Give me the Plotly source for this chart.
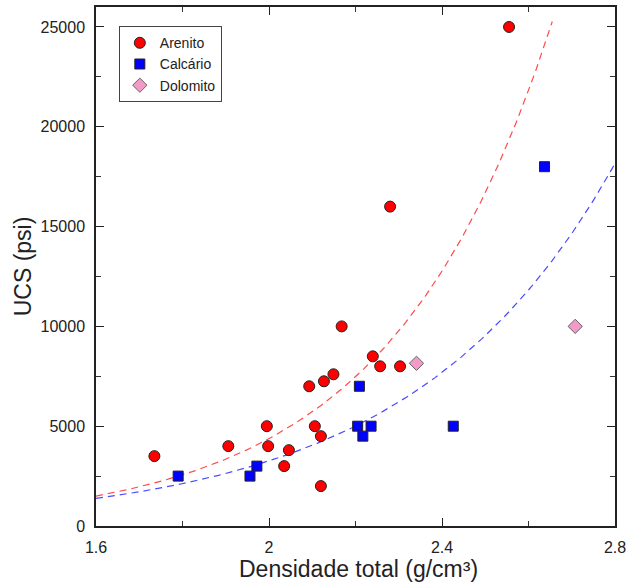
import numpy as np
import plotly.graph_objects as go

# --- data ---
arenito_x = [1.735, 1.906, 1.995, 1.998, 2.046, 2.035, 2.093, 2.106, 2.120, 2.120,
             2.127, 2.149, 2.168, 2.240, 2.257, 2.303, 2.280, 2.555]
arenito_y = [3500, 4000, 5000, 4000, 3800, 3000, 7000, 5000, 4500, 2000,
             7250, 7600, 10000, 8500, 8000, 8000, 16000, 25000]

calcario_x = [1.790, 1.956, 1.972, 2.209, 2.205, 2.217, 2.236, 2.426, 2.637]
calcario_y = [2500, 2500, 3000, 7000, 5000, 4500, 5000, 5000, 18000]

dolomito_x = [2.341, 2.708]
dolomito_y = [8150, 10000]

# exponential trend parameters (y = a * exp(b * x))
arenito_fit = {"a": 20.7, "b": 2.677, "x0": 1.6, "x1": 2.655}
calcario_fit = {"a": 44.5, "b": 2.147, "x0": 1.6, "x1": 2.8}

x_ticks = [1.6, 2.0, 2.4, 2.8]
x_tick_text = ["1.6", "2", "2.4", "2.8"]
y_ticks = [0, 5000, 10000, 15000, 20000, 25000]
y_tick_text = ["0", "5000", "10000", "15000", "20000", "25000"]

x_title = "Densidade total (g/cm³)"
y_title = "UCS (psi)"


def fit_curve(p):
    xs = np.linspace(p["x0"], p["x1"], 200)
    return xs, p["a"] * np.exp(p["b"] * xs)


FONT = "Liberation Sans, Arial, sans-serif"

fig = go.Figure()

xs, ys = fit_curve(arenito_fit)
fig.add_trace(go.Scatter(x=xs, y=ys, mode="lines", showlegend=False, hoverinfo="skip",
                         line=dict(color="#ff4a4a", width=1.2, dash="7px,5px")))
xs, ys = fit_curve(calcario_fit)
fig.add_trace(go.Scatter(x=xs, y=ys, mode="lines", showlegend=False, hoverinfo="skip",
                         line=dict(color="#4a4aff", width=1.2, dash="7px,5px")))

fig.add_trace(go.Scatter(x=arenito_x, y=arenito_y, mode="markers", name="Arenito",
                         marker=dict(symbol="circle", size=11, color="#ff0000",
                                     line=dict(color="#222222", width=1))))
fig.add_trace(go.Scatter(x=calcario_x, y=calcario_y, mode="markers", name="Calcário",
                         marker=dict(symbol="square", size=10, color="#0000ff",
                                     line=dict(color="#222222", width=1))))
fig.add_trace(go.Scatter(x=dolomito_x, y=dolomito_y, mode="markers", name="Dolomito",
                         marker=dict(symbol="diamond", size=11, color="#f49ac8",
                                     line=dict(color="#666666", width=1))))

axis_common = dict(
    showline=True, linecolor="#222222", linewidth=1.5, mirror="allticks",
    ticks="inside", ticklen=8, tickcolor="#222222", tickwidth=1.3,
    showgrid=False, zeroline=False, automargin=False,
    tickfont=dict(family=FONT, size=16, color="#222222"),
)

fig.update_xaxes(
    range=[1.6, 2.8], tickvals=x_ticks, ticktext=x_tick_text,
    ticklabelstandoff=6,
    minor=dict(ticks="inside", ticklen=5, tickcolor="#333333", tickwidth=1, dtick=0.2),
    **axis_common,
)
fig.update_yaxes(
    range=[0, 26000], tickvals=y_ticks, ticktext=y_tick_text,
    ticklabelstandoff=6,
    minor=dict(ticks="inside", ticklen=5, tickcolor="#333333", tickwidth=1, dtick=2500),
    **axis_common,
)

fig.add_annotation(text=x_title, xref="paper", yref="paper", x=0.505, y=-0.083,
                   xanchor="center", yanchor="middle", showarrow=False,
                   font=dict(family=FONT, size=23, color="#222222"))
fig.add_annotation(text=y_title, xref="paper", yref="paper", x=-0.141, y=0.5,
                   xanchor="center", yanchor="middle", showarrow=False, textangle=-90,
                   font=dict(family=FONT, size=23, color="#222222"))

fig.update_layout(
    width=629, height=582,
    margin=dict(l=96, r=14, t=7, b=56),
    plot_bgcolor="white", paper_bgcolor="white",
    showlegend=True,
    legend=dict(x=0.044, y=0.963, xanchor="left", yanchor="top",
                bgcolor="white", bordercolor="#444444", borderwidth=1,
                font=dict(family=FONT, size=14, color="#222222"),
                itemwidth=30, tracegroupgap=0),
)

fig.write_html("out.html", config={"displayModeBar": False},
               post_script="document.body.style.margin='0';document.body.style.padding='0';")
